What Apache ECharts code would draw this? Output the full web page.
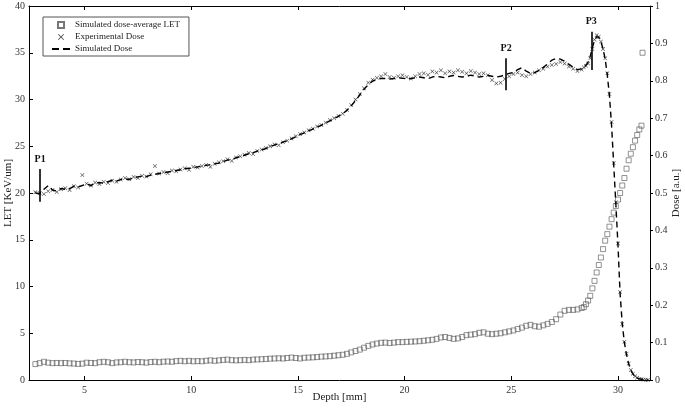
<!DOCTYPE html>
<html>
<head>
<meta charset="utf-8">
<script src="https://cdn.jsdelivr.net/npm/echarts@6.0.0/dist/echarts.min.js"></script>
<style>
html, body { margin: 0; padding: 0; background: #fff; }
#chart { width: 685px; height: 412px; }
</style>
</head>
<body>
<div id="chart"></div>
<script>
// depth grid [mm] shared by the three curves
const depth = [
    2.7, 2.9, 3.1, 3.3, 3.5, 3.7, 3.9, 4.1, 4.3, 4.5, 4.7, 4.9,
    5.1, 5.3, 5.5, 5.7, 5.9, 6.1, 6.3, 6.5, 6.7, 6.9,
    7.1, 7.3, 7.5, 7.7, 7.9, 8.1, 8.3, 8.5, 8.7, 8.9,
    9.1, 9.3, 9.5, 9.7, 9.9, 10.1, 10.3, 10.5, 10.7, 10.9,
    11.1, 11.3, 11.5, 11.7, 11.9, 12.1, 12.3, 12.5, 12.7, 12.9,
    13.1, 13.3, 13.5, 13.7, 13.9, 14.1, 14.3, 14.5, 14.7, 14.9,
    15.1, 15.3, 15.5, 15.7, 15.9, 16.1, 16.3, 16.5, 16.7, 16.9,
    17.1, 17.3, 17.5, 17.7, 17.9, 18.1, 18.3, 18.5, 18.7, 18.9,
    19.1, 19.3, 19.5, 19.7, 19.9, 20.1, 20.3, 20.5, 20.7, 20.9,
    21.1, 21.3, 21.5, 21.7, 21.9, 22.1, 22.3, 22.5, 22.7, 22.9,
    23.1, 23.3, 23.5, 23.7, 23.9, 24.1, 24.3, 24.5, 24.7, 24.9,
    25.1, 25.3, 25.5, 25.7, 25.9, 26.1, 26.3, 26.5, 26.7, 26.9,
    27.1, 27.3, 27.5, 27.7, 27.9, 28.1, 28.3,
    28.4, 28.5, 28.6, 28.7, 28.8, 28.9, 29.0, 29.1, 29.2, 29.3,
    29.4, 29.5, 29.6, 29.7, 29.8, 29.9, 30.0, 30.1, 30.2, 30.3,
    30.4, 30.5, 30.6, 30.7, 30.8, 30.9, 31.0, 31.1, 31.2, 31.3, 31.4
];

// simulated dose-average LET [keV/um]
const letValues = [
    1.70, 1.80, 1.95, 1.85, 1.80, 1.82, 1.80, 1.82, 1.78, 1.76, 1.72, 1.75,
    1.85, 1.82, 1.80, 1.90, 1.95, 1.90, 1.80, 1.88, 1.90, 1.95,
    1.90, 1.88, 1.92, 1.90, 1.86, 1.92, 1.95, 1.90, 1.96, 1.98,
    1.95, 2.02, 2.05, 2.00, 2.05, 2.00, 2.02, 2.00, 2.06, 2.10,
    2.05, 2.10, 2.15, 2.18, 2.12, 2.10, 2.12, 2.15, 2.12, 2.18,
    2.20, 2.22, 2.25, 2.28, 2.30, 2.32, 2.30, 2.35, 2.40, 2.35,
    2.30, 2.38, 2.40, 2.42, 2.45, 2.50, 2.52, 2.55, 2.60, 2.65,
    2.70, 2.80, 2.95, 3.10, 3.25, 3.45, 3.65, 3.80, 3.90, 3.98,
    4.00, 3.95, 4.00, 4.05, 4.05, 4.08, 4.10, 4.12, 4.15, 4.20,
    4.25, 4.30, 4.40, 4.55, 4.60, 4.50, 4.40, 4.45, 4.60, 4.80,
    4.85, 4.90, 5.05, 5.10, 4.95, 4.90, 4.95, 5.00, 5.10, 5.20,
    5.30, 5.45, 5.60, 5.80, 5.90, 5.75, 5.70, 5.85, 6.00, 6.20,
    6.50, 7.00, 7.40, 7.50, 7.50, 7.55, 7.70,
    7.8, 8.1, 8.5, 9.0, 9.8, 10.6, 11.5, 12.3, 13.1, 14.0,
    14.9, 15.6, 16.4, 17.2, 17.9, 18.6, 19.3, 20.0, 20.8, 21.6,
    22.6, 23.5, 24.2, 24.9, 25.6, 26.2, 26.8, 27.2, null, null, null
];
const letOutlier = [[31.15, 35.0]];

// experimental dose [a.u.]
const expDose = [
    0.502, 0.500, 0.497, 0.505, 0.508, 0.503, 0.510, 0.513, 0.508, 0.518, 0.515, 0.548,
    0.525, 0.520, 0.528, 0.524, 0.530, 0.527, 0.533, 0.530, 0.536, 0.540,
    0.537, 0.543, 0.540, 0.546, 0.544, 0.550, 0.572, 0.552, 0.556, 0.553,
    0.560, 0.558, 0.563, 0.566, 0.562, 0.570, 0.568, 0.572, 0.575, 0.570,
    0.578, 0.582, 0.585, 0.590, 0.586, 0.595, 0.598, 0.602, 0.607, 0.604,
    0.612, 0.616, 0.620, 0.625, 0.630, 0.628, 0.636, 0.640, 0.646, 0.652,
    0.658, 0.662, 0.668, 0.672, 0.678, 0.682, 0.688, 0.695, 0.700, 0.706,
    0.712, 0.722, 0.735, 0.750, 0.765, 0.780, 0.795, 0.803, 0.808, 0.812,
    0.818, 0.810, 0.808, 0.812, 0.815, 0.810, 0.806, 0.812, 0.818, 0.820,
    0.816, 0.825, 0.822, 0.828, 0.820, 0.825, 0.822, 0.828, 0.824, 0.820,
    0.826, 0.822, 0.818, 0.820, 0.815, 0.802, 0.793, 0.795, 0.805, 0.812,
    0.818, 0.822, 0.815, 0.812, 0.818, 0.822, 0.828, 0.832, 0.838, 0.842,
    0.845, 0.850, 0.846, 0.838, 0.832, 0.826, 0.830,
    0.836, 0.840, 0.846, 0.860, 0.885, 0.910, 0.922, 0.918, 0.905, 0.885,
    0.860, 0.820, 0.765, 0.690, 0.580, 0.475, 0.365, 0.235, 0.150, 0.102,
    0.070, 0.044, 0.027, 0.017, 0.010, 0.006, 0.003, 0.002, 0.001, 0.001, 0.000
];

// simulated dose [a.u.]
const simDose = [
    0.500, 0.498, 0.510, 0.520, 0.508, 0.505, 0.512, 0.510, 0.512, 0.518, 0.516, 0.520,
    0.524, 0.520, 0.526, 0.528, 0.526, 0.530, 0.534, 0.532, 0.536, 0.538,
    0.536, 0.541, 0.543, 0.545, 0.544, 0.548, 0.550, 0.552, 0.554, 0.556,
    0.558, 0.560, 0.562, 0.565, 0.566, 0.568, 0.570, 0.572, 0.574, 0.576,
    0.578, 0.580, 0.584, 0.588, 0.590, 0.594, 0.598, 0.601, 0.605, 0.608,
    0.612, 0.615, 0.619, 0.624, 0.628, 0.632, 0.636, 0.640, 0.645, 0.650,
    0.656, 0.661, 0.666, 0.671, 0.676, 0.681, 0.687, 0.693, 0.699, 0.705,
    0.712, 0.721, 0.733, 0.747, 0.762, 0.777, 0.790, 0.799, 0.804, 0.806,
    0.806, 0.805, 0.806, 0.808, 0.807, 0.805, 0.806, 0.808, 0.810, 0.808,
    0.806, 0.810, 0.812, 0.810, 0.808, 0.812, 0.814, 0.812, 0.810, 0.812,
    0.815, 0.813, 0.810, 0.812, 0.814, 0.812, 0.810, 0.812, 0.816, 0.820,
    0.822, 0.830, 0.835, 0.826, 0.820, 0.822, 0.828, 0.836, 0.845, 0.855,
    0.860, 0.858, 0.852, 0.844, 0.836, 0.830, 0.832,
    0.836, 0.842, 0.850, 0.866, 0.888, 0.908, 0.918, 0.916, 0.905, 0.885,
    0.858, 0.815, 0.760, 0.680, 0.575, 0.470, 0.360, 0.230, 0.150, 0.100,
    0.068, 0.043, 0.026, 0.016, 0.009, 0.005, 0.003, 0.002, 0.001, 0.001, 0.000
];

// marked positions P1..P3 (depth, LET range of the bar)
const peakNames = ['P1', 'P2', 'P3'];
const peakDepth = [2.92, 24.76, 28.75];
const peakLow = [19.07, 31.0, 33.15];
const peakHigh = [22.57, 34.4, 37.25];

const FONT = 'Liberation Serif';
const xMarker = 'path://M0,1L1,0L5,4L9,0L10,1L6,5L10,9L9,10L5,6L1,10L0,9L4,5Z';
const squareIcon = 'path://M0,0H10V10H0Z';
const dashIcon = 'path://M0,4H7V6H0Z M11,4H18V6H11Z';

function zip(xs, ys) {
    return xs.map((x, i) => [x, ys[i]]).filter(p => p[1] !== null);
}

const chart = echarts.init(document.getElementById('chart'));

const axisLine = { show: true, onZero: false, lineStyle: { color: '#000', width: 1 } };
const tickLabel = { color: '#333', fontFamily: FONT, fontSize: 10 };
const nameStyle = { color: '#222', fontFamily: FONT, fontSize: 11 };

const option = {
    animation: false,
    backgroundColor: '#fff',
    grid: { left: 29, right: 35, top: 6, bottom: 32, outerBoundsMode: 'none' },
    legend: {
        left: 43,
        top: 17,
        orient: 'vertical',
        padding: [2, 9, 1, 9],
        itemGap: 0,
        itemWidth: 18,
        itemHeight: 6,
        symbolKeepAspect: true,
        backgroundColor: '#fff',
        borderColor: '#555',
        borderWidth: 1,
        textStyle: { fontFamily: FONT, fontSize: 9, color: '#222', lineHeight: 12 },
        data: [
            { name: 'Simulated dose-average LET', icon: squareIcon },
            { name: 'Experimental Dose', icon: xMarker },
            { name: 'Simulated Dose', icon: dashIcon, itemStyle: { color: '#000' } }
        ]
    },
    xAxis: [{
        type: 'value',
        min: 2.4,
        max: 31.5,
        minInterval: 5,
        maxInterval: 5,
        position: 'bottom',
        axisLine: axisLine,
        axisTick: { inside: true, length: 4, lineStyle: { color: '#000' } },
        axisLabel: Object.assign({ showMinLabel: false, showMaxLabel: false, margin: 5 }, tickLabel),
        splitLine: { show: false },
        name: 'Depth [mm]',
        nameLocation: 'middle',
        nameGap: 12,
        nameMoveOverlap: false,
        nameTextStyle: nameStyle
    }, {
        type: 'value',
        min: 2.4,
        max: 31.5,
        minInterval: 5,
        maxInterval: 5,
        position: 'top',
        axisLine: axisLine,
        axisTick: { inside: true, length: 4, lineStyle: { color: '#000' } },
        axisLabel: { show: false },
        splitLine: { show: false }
    }],
    yAxis: [{
        type: 'value',
        min: 0,
        max: 40,
        interval: 5,
        position: 'left',
        axisLine: axisLine,
        axisTick: { inside: true, length: 4, lineStyle: { color: '#000' } },
        axisLabel: Object.assign({ margin: 4 }, tickLabel),
        splitLine: { show: false },
        name: 'LET [KeV/um]',
        nameLocation: 'middle',
        nameRotate: 90,
        nameGap: 15,
        nameMoveOverlap: false,
        nameTextStyle: nameStyle
    }, {
        type: 'value',
        min: 0,
        max: 1,
        interval: 0.1,
        position: 'right',
        axisLine: axisLine,
        axisTick: { inside: false, length: 3, lineStyle: { color: '#000' } },
        axisLabel: Object.assign({ margin: 5 }, tickLabel),
        splitLine: { show: false },
        name: 'Dose [a.u.]',
        nameLocation: 'middle',
        nameRotate: 90,
        nameGap: 21,
        nameMoveOverlap: false,
        nameTextStyle: nameStyle
    }],
    series: [{
        name: 'Simulated dose-average LET',
        type: 'scatter',
        xAxisIndex: 0,
        yAxisIndex: 0,
        symbol: 'rect',
        symbolSize: 5,
        itemStyle: { color: 'rgba(255,255,255,0)', borderColor: '#555', borderWidth: 0.8 },
        data: zip(depth, letValues).concat(letOutlier),
        markLine: {
            silent: true,
            symbol: 'none',
            lineStyle: { color: '#000', width: 1.6, type: 'solid' },
            label: {
                show: true,
                position: 'end',
                distance: 5,
                formatter: '{b}',
                color: '#111',
                fontFamily: FONT,
                fontSize: 10,
                fontWeight: 'bold'
            },
            data: peakNames.map((n, i) => [
                { name: n, coord: [peakDepth[i], peakLow[i]] },
                { coord: [peakDepth[i], peakHigh[i]] }
            ])
        }
    }, {
        name: 'Experimental Dose',
        type: 'scatter',
        xAxisIndex: 0,
        yAxisIndex: 1,
        symbol: xMarker,
        symbolSize: 4,
        itemStyle: { color: '#111' },
        data: zip(depth, expDose)
    }, {
        name: 'Simulated Dose',
        type: 'line',
        xAxisIndex: 0,
        yAxisIndex: 1,
        showSymbol: false,
        symbol: 'none',
        lineStyle: { color: '#000', width: 1.4, type: [6, 4] },
        itemStyle: { color: '#000' },
        data: zip(depth, simDose)
    }]
};

chart.setOption(option);
</script>
</body>
</html>
